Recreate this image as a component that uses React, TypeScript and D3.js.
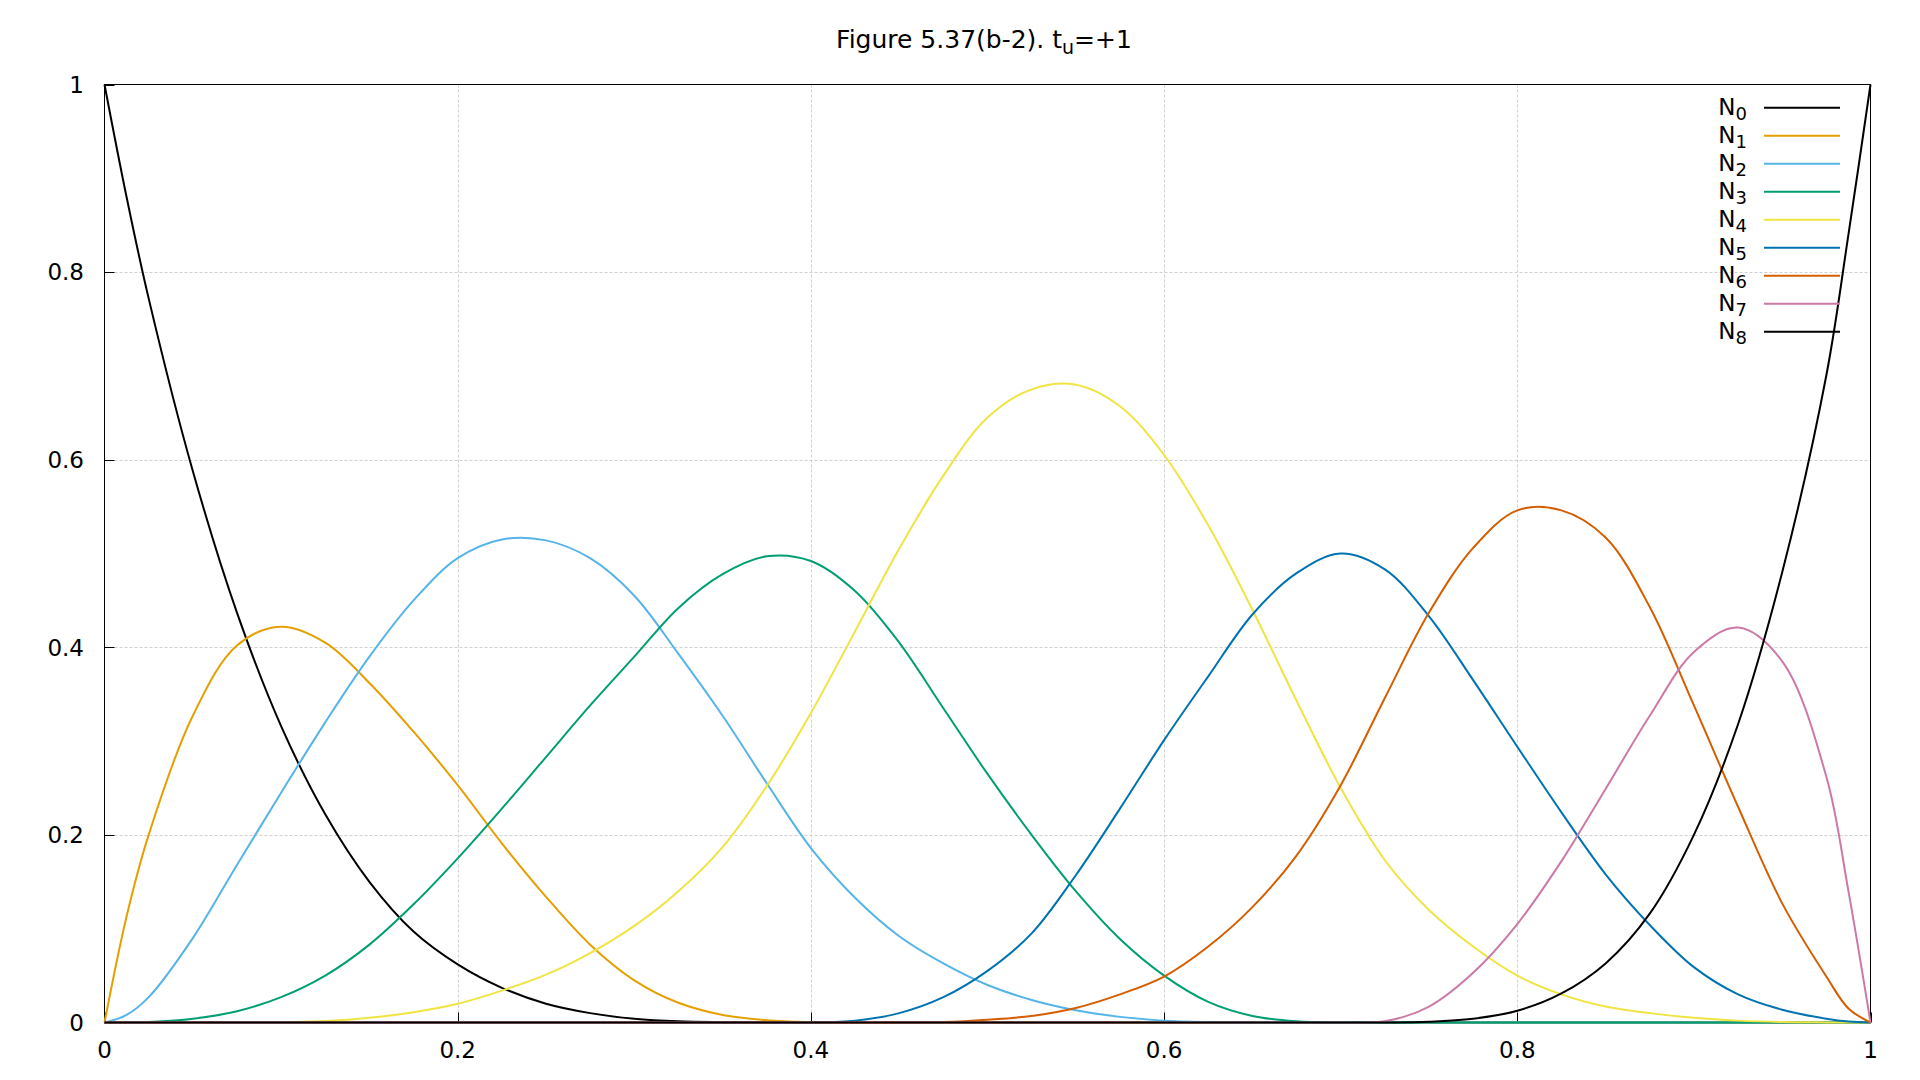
import React from "react";
import * as d3 from "d3";

const xs = [0, 0.0125, 0.025, 0.05, 0.075, 0.1, 0.125, 0.15, 0.175, 0.2, 0.225, 0.25, 0.275, 0.3, 0.325, 0.35, 0.375, 0.4, 0.425, 0.45, 0.475, 0.5, 0.525, 0.55, 0.575, 0.6, 0.625, 0.65, 0.675, 0.7, 0.725, 0.75, 0.775, 0.8, 0.825, 0.85, 0.875, 0.9, 0.925, 0.95, 0.975, 0.9875, 1];

const N0 = [1, 0.88, 0.772, 0.588, 0.437, 0.316, 0.222, 0.15, 0.097, 0.062, 0.037, 0.02, 0.01, 0.004, 0.0012, 0.0003, 0, 0, 0, 0, 0, 0, 0, 0, 0, 0, 0, 0, 0, 0, 0, 0, 0, 0, 0, 0, 0, 0, 0, 0, 0, 0, 0];
const N1 = [0, 0.113, 0.2, 0.327, 0.402, 0.422, 0.405, 0.362, 0.31, 0.253, 0.191, 0.134, 0.083, 0.045, 0.021, 0.008, 0.0025, 0.0005, 0.0001, 0, 0, 0, 0, 0, 0, 0, 0, 0, 0, 0, 0, 0, 0, 0, 0, 0, 0, 0, 0, 0, 0, 0, 0];
const N2 = [0, 0.008, 0.027, 0.09, 0.168, 0.245, 0.32, 0.39, 0.45, 0.495, 0.515, 0.514, 0.495, 0.455, 0.393, 0.327, 0.255, 0.186, 0.133, 0.092, 0.063, 0.04, 0.024, 0.013, 0.006, 0.002, 0.0005, 0, 0, 0, 0, 0, 0, 0, 0, 0, 0, 0, 0, 0, 0, 0, 0];
const N3 = [0, 0.0001, 0.0006, 0.004, 0.012, 0.027, 0.05, 0.083, 0.126, 0.175, 0.228, 0.283, 0.338, 0.39, 0.442, 0.478, 0.497, 0.492, 0.46, 0.405, 0.335, 0.265, 0.2, 0.14, 0.089, 0.05, 0.022, 0.007, 0.0013, 0, 0, 0, 0, 0, 0, 0, 0, 0, 0, 0, 0, 0, 0];
const N4 = [0, 0, 0, 0.0001, 0.0002, 0.0005, 0.0015, 0.005, 0.011, 0.02, 0.034, 0.051, 0.074, 0.103, 0.14, 0.187, 0.252, 0.33, 0.417, 0.505, 0.583, 0.645, 0.675, 0.68, 0.657, 0.605, 0.53, 0.44, 0.343, 0.25, 0.173, 0.12, 0.081, 0.05, 0.03, 0.017, 0.01, 0.005, 0.002, 0.0005, 0.0001, 0, 0];
const N5 = [0, 0, 0, 0, 0, 0, 0, 0, 0, 0, 0, 0, 0, 0, 0, 0, 0, 0, 0.002, 0.01, 0.027, 0.055, 0.095, 0.157, 0.228, 0.301, 0.369, 0.435, 0.479, 0.5, 0.483, 0.433, 0.365, 0.294, 0.224, 0.158, 0.104, 0.059, 0.03, 0.0136, 0.004, 0.001, 0];
const N6 = [0, 0, 0, 0, 0, 0, 0, 0, 0, 0, 0, 0, 0, 0, 0, 0, 0, 0, 0, 0, 0.0005, 0.003, 0.007, 0.0155, 0.03, 0.049, 0.081, 0.123, 0.178, 0.253, 0.346, 0.437, 0.506, 0.546, 0.546, 0.517, 0.443, 0.338, 0.23, 0.127, 0.049, 0.015, 0];
const N7 = [0, 0, 0, 0, 0, 0, 0, 0, 0, 0, 0, 0, 0, 0, 0, 0, 0, 0, 0, 0, 0, 0, 0, 0, 0, 0, 0, 0, 0, 0, 0.0013, 0.017, 0.053, 0.105, 0.172, 0.249, 0.327, 0.395, 0.421, 0.385, 0.262, 0.14, 0];
const N8 = [0, 0, 0, 0, 0, 0, 0, 0, 0, 0, 0, 0, 0, 0, 0, 0, 0, 0, 0, 0, 0, 0, 0, 0, 0, 0, 0, 0, 0, 0, 0.00005, 0.0008, 0.004, 0.0125, 0.031, 0.063, 0.116, 0.2, 0.318, 0.48, 0.69, 0.84, 1];

const seriesValues = [N0, N1, N2, N3, N4, N5, N6, N7, N8];
const seriesIndex = ["0", "1", "2", "3", "4", "5", "6", "7", "8"];
const seriesColors = ["#000000", "#e69f00", "#56b4e9", "#009e73", "#f0e442", "#0072b2", "#d55e00", "#cc79a7", "#000000"];

const xTicks = [0, 0.2, 0.4, 0.6, 0.8, 1];
const yTicks = [0, 0.2, 0.4, 0.6, 0.8, 1];
const gridTicks = [0.2, 0.4, 0.6, 0.8];

const FONT = "'DejaVu Sans', Verdana, sans-serif";

export default function App() {
  const left = 104.5, right = 1870.5, top = 84.5, bottom = 1022.5;
  const x = d3.scaleLinear().domain([0, 1]).range([left, right]);
  const y = d3.scaleLinear().domain([0, 1]).range([bottom, top]);
  const line = d3
    .line<number>()
    .x((_, i) => x(xs[i]))
    .y((d) => Math.min(bottom, y(d)))
    .curve(d3.curveCatmullRom.alpha(0.5));
  const fmt = (v: number) => (v === 0 ? "0" : v === 1 ? "1" : String(v));

  return (
    <svg
      width={1920}
      height={1080}
      style={{ position: "absolute", left: 0, top: 0, background: "#fff" }}
      fontFamily={FONT}
    >
      <rect x={0} y={0} width={1920} height={1080} fill="#fff" />
      {gridTicks.map((t) => (
        <line key={"gx" + t} x1={Math.round(x(t)) + 0.5} x2={Math.round(x(t)) + 0.5} y1={top} y2={bottom} stroke="#d0d0d0" strokeWidth={1} strokeDasharray="3,2" />
      ))}
      {gridTicks.map((t) => (
        <line key={"gy" + t} x1={left} x2={right} y1={Math.round(y(t)) + 0.5} y2={Math.round(y(t)) + 0.5} stroke="#d0d0d0" strokeWidth={1} strokeDasharray="3,2" />
      ))}
      {yTicks.map((t) => (
        <g key={"yt" + t}>
          <line x1={left} x2={left + 10} y1={Math.round(y(t)) + 0.5} y2={Math.round(y(t)) + 0.5} stroke="#000" strokeWidth={1} />
          <text x={84} y={y(t)} dy="0.36em" textAnchor="end" fontSize={23} fill="#000">
            {fmt(t)}
          </text>
        </g>
      ))}
      {xTicks.map((t) => (
        <g key={"xt" + t}>
          <line x1={Math.round(x(t)) + 0.5} x2={Math.round(x(t)) + 0.5} y1={bottom} y2={bottom - 10} stroke="#000" strokeWidth={1} />
          <text x={x(t)} y={1058} textAnchor="middle" fontSize={23} fill="#000">
            {fmt(t)}
          </text>
        </g>
      ))}
      <rect x={left} y={top} width={right - left} height={bottom - top} fill="none" stroke="#000" strokeWidth={1} />
      {seriesValues.map((vals, k) => (
        <path key={"s" + k} d={line(vals) || ""} fill="none" stroke={seriesColors[k]} strokeWidth={2} strokeLinejoin="round" />
      ))}
      {seriesIndex.map((s, k) => {
        const ly = 107.7 + 28 * k;
        return (
          <g key={"lg" + k}>
            <text x={1747} y={ly + 7.5} textAnchor="end" fontSize={23} fill="#000">
              N
              <tspan fontSize={18} dy={5}>{s}</tspan>
            </text>
            <line x1={1764} x2={1840} y1={ly} y2={ly} stroke={seriesColors[k]} strokeWidth={2} />
          </g>
        );
      })}
      <text x={984} y={48} textAnchor="middle" fontSize={25} fill="#000">
        Figure 5.37(b-2). t<tspan fontSize={19} dy={6}>u</tspan>
        <tspan dy={-6}>=+1</tspan>
      </text>
    </svg>
  );
}
